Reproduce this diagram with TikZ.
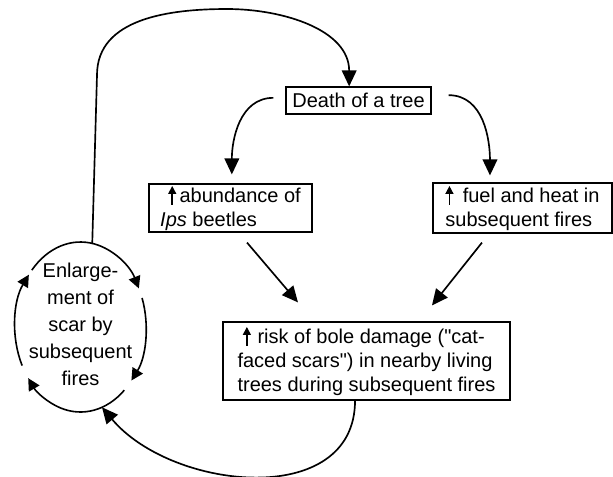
\documentclass[tikz,border=0pt]{standalone}
\usepackage{fontspec}
\setmainfont{Liberation Sans}
\usetikzlibrary{arrows.meta,shapes.geometric}

% small up arrow used inside the boxes
\newcommand{\incr}{\tikz[baseline=0pt]{\pgftransformreset\draw[line width=1.1pt,-{Triangle[length=6pt,width=6pt]}] (0pt,-1.5pt) -- (0pt,12.5pt);}}

\begin{document}
\begin{tikzpicture}[x=0.75pt,y=0.75pt,yscale=-1,xscale=1,
  box/.style={draw,line width=0.9pt,inner sep=0pt,align=left,font=\fontsize{15}{18}\selectfont},
  arr/.style={line width=1.25pt,-{Triangle[length=12pt,width=11pt]}},
  ringarr/.style={line width=1.2pt,-{Triangle[length=9pt,width=9pt]}}]
\useasboundingbox (0,0) rectangle (613,476);

% Text Node
\node[box,align=center,minimum width=108.75pt,minimum height=20.25pt] (death) at (358.5,100.5) {Death of a tree};
% Text Node
\node[box,minimum width=122.25pt,minimum height=36pt] (ips) at (230.5,208) {\hspace*{6pt}\incr\hspace{2.5pt}abundance of\\\textit{Ips} beetles};
% Text Node
\node[box,minimum width=134.25pt,minimum height=37.5pt] (fuel) at (522.5,208) {\incr\hspace{7pt}fuel and heat in\\subsequent fires};
% Text Node
\node[box,minimum width=215.25pt,minimum height=58.5pt] (risk) at (366.5,361) {\hspace*{4pt}\incr\hspace{5pt}risk of bole damage (\textquotedbl cat-\\faced scars\textquotedbl) in nearby living\\trees during subsequent fires};

%Shape: Ellipse
\node[ellipse,minimum width=98.25pt,minimum height=127.5pt,inner sep=0pt,outer sep=0pt] (scar) at (80.5,327) {};
% Text Node
\node[align=center,inner sep=0pt,font=\fontsize{15}{20.25}\selectfont] (scartext) at (80.5,324) {Enlarge-\\ment of\\scar by\\subsequent\\fires};

%Curve Lines round the ellipse
\foreach \s/\e in {153/218, 222/333, 340/399, 48/143}
  \draw[ringarr] (scar.center) ++(\s:65.5 and 85) arc[start angle=\s, end angle=\e, x radius=65.5, y radius=85];

%Curve Lines
\draw[arr] (scar.82) -- (97,75) to[out=270,in=180] (227,9) to[out=0,in=270] ([xshift=-7pt]death.north);
%Curve Lines
\draw[arr] ([xshift=-9pt,yshift=-2pt]death.west) to[out=180,in=270] ([xshift=1pt,yshift=-6.75pt]ips.north);
%Curve Lines
\draw[arr] ([xshift=12.75pt,yshift=-4pt]death.east) to[out=0,in=270] ([xshift=-24.4pt,yshift=-5.25pt]fuel.north);

%Straight Lines
\draw[arr] ([xshift=12.4pt,yshift=7.5pt]ips.south) -- ([xshift=-51.4pt,yshift=-14.25pt]risk.north);
%Straight Lines
\draw[arr] ([xshift=-30.4pt,yshift=6.75pt]fuel.south) -- ([xshift=49.1pt,yshift=-12pt]risk.north);

%Curve Lines
\draw[arr] ([xshift=-8.6pt]risk.south) to[out=90,in=50,looseness=1.1] (scar.285);

\end{tikzpicture}
\end{document}
